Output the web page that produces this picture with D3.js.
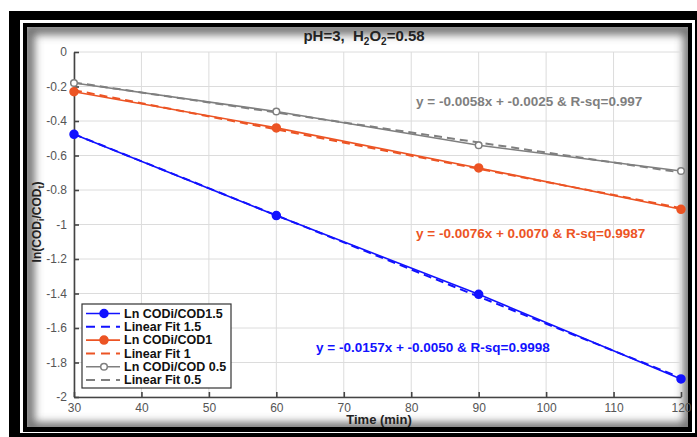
<!DOCTYPE html>
<html>
<head>
<meta charset="utf-8">
<script src="https://cdn.jsdelivr.net/npm/d3@7"></script>
<style>
  body { margin: 0; background: #fff; }
  svg { display: block; font-family: Arial, "Liberation Sans", sans-serif; }
</style>
</head>
<body>
<div id="chart"></div>
<script>
// data
const times = [30, 60, 90, 120];
const ln15 = [-0.477, -0.948, -1.405, -1.895];
const ln1 = [-0.23, -0.44, -0.672, -0.912];
const ln05 = [-0.18, -0.345, -0.541, -0.69];
const fit15 = [-0.476, -0.947, -1.418, -1.889];
const fit1 = [-0.221, -0.449, -0.677, -0.905];
const fit05 = [-0.1765, -0.3505, -0.5245, -0.6985];
const xTicks = [30, 40, 50, 60, 70, 80, 90, 100, 110, 120];
const yTicks = [0, -0.2, -0.4, -0.6, -0.8, -1, -1.2, -1.4, -1.6, -1.8, -2];
const seriesNames = ["Ln CODi/COD1.5", "Linear Fit 1.5", "Ln CODi/COD1", "Linear Fit 1", "Ln CODi/COD 0.5", "Linear Fit 0.5"];
const fitLabels = ["y = -0.0157x + -0.0050 & R-sq=0.9998", "y = -0.0076x + 0.0070 & R-sq=0.9987", "y = -0.0058x + -0.0025 & R-sq=0.997"];

const W = 697, H = 437;
const blue = "#1212ff", orange = "#ec5424", grey = "#7f7f7f";

const svg = d3.select("#chart").append("svg")
    .attr("width", W)
    .attr("height", H);

// frames
svg.append("rect").attr("x", 9).attr("y", 11).attr("width", 700).attr("height", 440).attr("fill", "#000");
svg.append("rect").attr("x", 20).attr("y", 20).attr("width", 675).attr("height", 413).attr("fill", "#fff");
svg.append("rect").attr("x", 23).attr("y", 23).attr("width", 669).attr("height", 409).attr("fill", "#000");

// inner panel with soft inset shadow
const defs = svg.append("defs");
defs.append("clipPath").attr("id", "inner")
  .append("rect").attr("x", 27).attr("y", 27).attr("width", 661).attr("height", 400);
const blur = defs.append("filter").attr("id", "blur")
    .attr("x", "-10%").attr("y", "-10%").attr("width", "120%").attr("height", "120%");
blur.append("feGaussianBlur").attr("stdDeviation", 4);

svg.append("rect").attr("x", 27).attr("y", 27).attr("width", 661).attr("height", 400).attr("fill", "#fff");
svg.append("g").attr("clip-path", "url(#inner)")
  .append("rect")
    .attr("x", 29).attr("y", 29).attr("width", 660).attr("height", 399)
    .attr("fill", "none")
    .attr("stroke", "#6e6e6e")
    .attr("stroke-width", 11)
    .attr("filter", "url(#blur)");

// scales
const x = d3.scaleLinear().domain([30, 120]).range([74, 681]);
const y = d3.scaleLinear().domain([-2, 0]).range([397, 52]);

// grid
const grid = svg.append("g").attr("stroke", "#dcdcdc").attr("stroke-width", 1);
grid.selectAll(".gx").data(xTicks).join("line")
    .attr("x1", d => x(d)).attr("x2", d => x(d))
    .attr("y1", y(0)).attr("y2", y(-2));
grid.selectAll(".gy").data(yTicks).join("line")
    .attr("x1", x(30)).attr("x2", x(120))
    .attr("y1", d => y(d)).attr("y2", d => y(d));

// axes (ticks pointing inward)
const fmt = d => d === 0 ? "0" : String(+d.toFixed(1));
const xAxis = svg.append("g")
    .attr("transform", `translate(0, ${y(-2)})`)
    .call(d3.axisBottom(x).tickValues(xTicks).tickSizeInner(-5).tickSizeOuter(0).tickPadding(6));
const yAxis = svg.append("g")
    .attr("transform", `translate(${x(30)}, 0)`)
    .call(d3.axisLeft(y).tickValues(yTicks).tickFormat(fmt).tickSizeInner(-5).tickSizeOuter(0).tickPadding(7));
[xAxis, yAxis].forEach(a => {
  a.select(".domain").attr("stroke", "#444").attr("stroke-width", 1.6);
  a.selectAll(".tick line").attr("stroke", "#444").attr("stroke-width", 1.6);
  a.selectAll(".tick text").attr("fill", "#555").style("font-size", "12px");
});

// series
const series = [
  {vals: ln15, fit: fit15, color: blue, marker: "fill", r: 4},
  {vals: ln1, fit: fit1, color: orange, marker: "fill", r: 4},
  {vals: ln05, fit: fit05, color: grey, marker: "open", r: 3.3}
];

const line = d3.line().x(d => x(d[0])).y(d => y(d[1]));

series.forEach(s => {
  const pts = times.map((t, i) => [t, s.vals[i]]);
  const fpts = times.map((t, i) => [t, s.fit[i]]);
  svg.append("path").datum(fpts)
      .attr("d", line)
      .attr("fill", "none")
      .attr("stroke", s.color)
      .attr("stroke-width", 2)
      .attr("stroke-dasharray", "8,5");
  svg.append("path").datum(pts)
      .attr("d", line)
      .attr("fill", "none")
      .attr("stroke", s.color)
      .attr("stroke-width", 1.6);
  svg.selectAll(null).data(pts).join("circle")
      .attr("cx", d => x(d[0]))
      .attr("cy", d => y(d[1]))
      .attr("r", s.r)
      .attr("fill", s.marker === "fill" ? s.color : "#fff")
      .attr("stroke", s.color)
      .attr("stroke-width", 1.5);
});

// fit equations
const eqPos = [[316, 347, blue], [416, 233, orange], [416, 101, grey]];
fitLabels.forEach((t, i) => {
  svg.append("text")
      .attr("x", eqPos[i][0]).attr("y", eqPos[i][1])
      .attr("dy", "0.35em")
      .attr("fill", eqPos[i][2])
      .style("font-size", "13.5px").style("font-weight", "bold")
      .text(t);
});

// title
const title = svg.append("text")
    .attr("x", 364).attr("y", 41)
    .attr("text-anchor", "middle")
    .style("font-size", "15px").style("font-weight", "bold")
    .style("white-space", "pre")
    .attr("fill", "#222");
title.append("tspan").text("pH=3,  H");
title.append("tspan").attr("dy", 4).style("font-size", "10px").text("2");
title.append("tspan").attr("dy", -4).text("O");
title.append("tspan").attr("dy", 4).style("font-size", "10px").text("2");
title.append("tspan").attr("dy", -4).text("=0.58");

// axis labels
svg.append("text")
    .attr("x", 379).attr("y", 424)
    .attr("text-anchor", "middle")
    .style("font-size", "13px").style("font-weight", "bold")
    .attr("fill", "#222")
    .text("Time (min)");

const ylab = svg.append("text")
    .attr("transform", "translate(41, 222) rotate(-90)")
    .attr("text-anchor", "middle")
    .style("font-size", "12px").style("font-weight", "bold")
    .attr("fill", "#222");
ylab.append("tspan").text("ln(COD");
ylab.append("tspan").attr("dy", 3).style("font-size", "9px").text("i");
ylab.append("tspan").attr("dy", -3).text("/COD");
ylab.append("tspan").attr("dy", 3).style("font-size", "9px").text("t");
ylab.append("tspan").attr("dy", -3).text(")");

// legend
const legend = svg.append("g").attr("transform", "translate(82, 304)");
legend.append("rect")
    .attr("width", 149).attr("height", 84)
    .attr("fill", "#fff")
    .attr("stroke", "#333").attr("stroke-width", 1.2);

const legendItems = seriesNames.map((name, i) => ({
  name: name,
  s: series[Math.floor(i / 2)],
  dashed: i % 2 === 1
}));

const rows = legend.selectAll("g.row").data(legendItems).join("g")
    .attr("transform", (d, i) => `translate(0, ${9.5 + i * 13.3})`);
rows.append("line")
    .attr("x1", 4).attr("x2", 38)
    .attr("stroke", d => d.s.color)
    .attr("stroke-width", d => d.dashed ? 2 : 1.6)
    .attr("stroke-dasharray", d => d.dashed ? "9,6" : null);
rows.filter(d => !d.dashed).append("circle")
    .attr("cx", 22).attr("r", d => d.s.r)
    .attr("fill", d => d.s.marker === "fill" ? d.s.color : "#fff")
    .attr("stroke", d => d.s.color)
    .attr("stroke-width", 1.5);
rows.append("text")
    .attr("x", 42).attr("dy", "0.35em")
    .style("font-size", "12.5px").style("font-weight", "bold")
    .attr("fill", "#111")
    .text(d => d.name);
</script>
</body>
</html>
